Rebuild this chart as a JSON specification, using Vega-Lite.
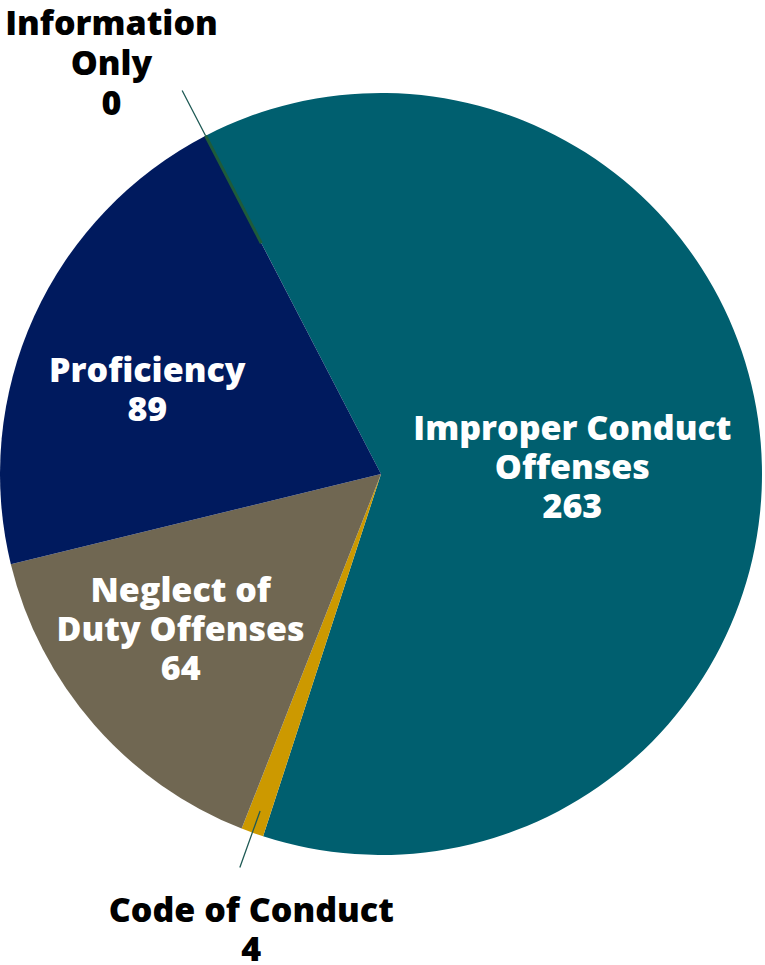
{
  "$schema": "https://vega.github.io/schema/vega-lite/v6.json",
  "width": 762,
  "height": 948,
  "autosize": {"type": "none"},
  "padding": {"left": 0, "top": 0, "right": 3, "bottom": 17},
  "background": "white",
  "config": {"view": {"stroke": null}},
  "data": {
    "values": [
      {"category": "Improper Conduct Offenses", "label": "Improper Conduct\nOffenses", "count": 263, "order": 1},
      {"category": "Code of Conduct", "label": "Code of Conduct", "count": 4, "order": 2},
      {"category": "Neglect of Duty Offenses", "label": "Neglect of\nDuty Offenses", "count": 64, "order": 3},
      {"category": "Proficiency", "label": "Proficiency", "count": 89, "order": 4},
      {"category": "Information Only", "label": "Information\nOnly", "count": 0, "order": 5}
    ]
  },
  "transform": [
    {"stack": "count", "groupby": [], "sort": [{"field": "order", "order": "ascending"}], "as": ["s0", "s1"]},
    {"calculate": "(datum.s0 + datum.s1) / 2", "as": "mid"},
    {"calculate": "datum.label + '\\n' + datum.count", "as": "text"}
  ],
  "encoding": {
    "theta": {"field": "s0", "type": "quantitative", "stack": null,
      "scale": {"domain": [0, 420], "range": [5.805, 12.088]}}
  },
  "layer": [
    {
      "mark": {"type": "arc", "radius": 381, "stroke": null},
      "encoding": {
        "theta2": {"field": "s1"},
        "color": {"field": "category", "type": "nominal", "legend": null,
          "scale": {
            "domain": ["Improper Conduct Offenses", "Code of Conduct", "Neglect of Duty Offenses", "Proficiency", "Information Only"],
            "range": ["#005F6F", "#CC9900", "#706752", "#001A5E", "#1E5B3A"]
          }}
      }
    },
    {
      "transform": [{"filter": "datum.category == 'Information Only'"}],
      "mark": {"type": "arc", "radius": 381, "radius2": 260, "filled": false, "stroke": "#1E5B3A", "strokeWidth": 3},
      "encoding": {"theta2": {"field": "s1"}}
    },
    {
      "transform": [{"filter": "datum.category == 'Information Only'"}],
      "mark": {"type": "arc", "radius": 432, "radius2": 381, "filled": false, "stroke": "#1F5A55", "strokeWidth": 1.3},
      "encoding": {"theta": {"field": "mid", "type": "quantitative", "stack": null}, "theta2": {"field": "mid"}}
    },
    {
      "transform": [{"filter": "datum.category == 'Code of Conduct'"}],
      "mark": {"type": "arc", "radius": 418, "radius2": 358, "filled": false, "stroke": "#1F5A55", "strokeWidth": 1.3},
      "encoding": {"theta": {"field": "mid", "type": "quantitative", "stack": null}, "theta2": {"field": "mid"}}
    },
    {
      "transform": [{"filter": "datum.category == 'Improper Conduct Offenses'"}],
      "mark": {"type": "text", "radius": 191, "dx": 1, "dy": -28, "font": "Open Sans", "fontWeight": 800, "fontSize": 34, "lineHeight": 39, "lineBreak": "\n", "color": "white", "align": "center", "baseline": "middle"},
      "encoding": {"theta": {"field": "mid", "type": "quantitative", "stack": null}, "text": {"field": "text"}}
    },
    {
      "transform": [{"filter": "datum.category == 'Proficiency'"}],
      "mark": {"type": "text", "radius": 249, "dx": -7, "dy": 1, "font": "Open Sans", "fontWeight": 800, "fontSize": 34, "lineHeight": 39, "lineBreak": "\n", "color": "white", "align": "center", "baseline": "middle"},
      "encoding": {"theta": {"field": "mid", "type": "quantitative", "stack": null}, "text": {"field": "text"}}
    },
    {
      "transform": [{"filter": "datum.category == 'Neglect of Duty Offenses'"}],
      "mark": {"type": "text", "radius": 254, "dx": -9, "dy": -49, "font": "Open Sans", "fontWeight": 800, "fontSize": 34, "lineHeight": 39, "lineBreak": "\n", "color": "white", "align": "center", "baseline": "middle"},
      "encoding": {"theta": {"field": "mid", "type": "quantitative", "stack": null}, "text": {"field": "text"}}
    },
    {
      "transform": [{"filter": "datum.category == 'Information Only'"}],
      "mark": {"type": "text", "radius": 492, "dx": -43, "dy": -12, "font": "Open Sans", "fontWeight": 800, "fontSize": 34, "lineHeight": 40, "lineBreak": "\n", "color": "black", "align": "center", "baseline": "middle"},
      "encoding": {"theta": {"field": "mid", "type": "quantitative", "stack": null}, "text": {"field": "text"}}
    },
    {
      "transform": [{"filter": "datum.category == 'Code of Conduct'"}],
      "mark": {"type": "text", "radius": 473, "dx": 30, "dy": -7, "font": "Open Sans", "fontWeight": 800, "fontSize": 34, "lineHeight": 39, "lineBreak": "\n", "color": "black", "align": "center", "baseline": "middle"},
      "encoding": {"theta": {"field": "mid", "type": "quantitative", "stack": null}, "text": {"field": "text"}}
    }
  ]
}
